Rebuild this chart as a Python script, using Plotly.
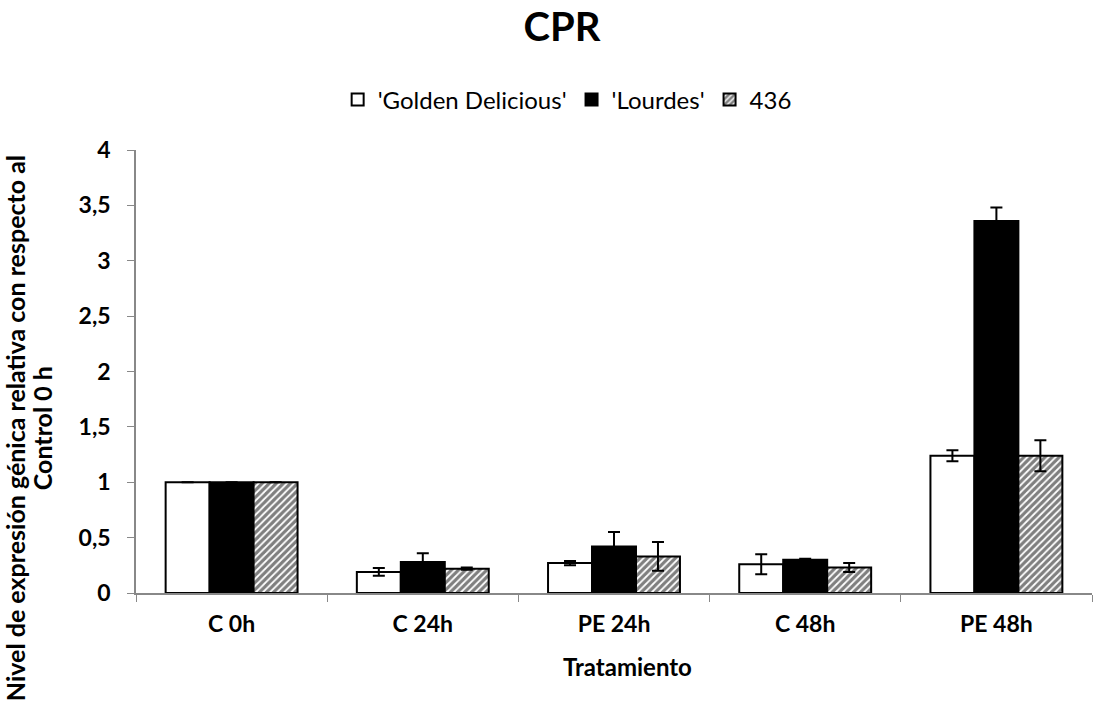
import plotly.graph_objects as go

categories = ["C 0h", "C 24h", "PE 24h", "C 48h", "PE 48h"]
series_names = ["'Golden Delicious'", "'Lourdes'", "436"]
golden = [1.0, 0.19, 0.27, 0.26, 1.24]
golden_err = [0.0, 0.035, 0.02, 0.09, 0.05]
lourdes = [1.0, 0.28, 0.42, 0.30, 3.36]
lourdes_err = [0.0, 0.08, 0.13, 0.01, 0.12]
s436 = [1.0, 0.22, 0.33, 0.23, 1.24]
s436_err = [0.0, 0.01, 0.13, 0.04, 0.14]
y_ticks = [0, 0.5, 1, 1.5, 2, 2.5, 3, 3.5, 4]
y_ticktext = ["0", "0,5", "1", "1,5", "2", "2,5", "3", "3,5", "4"]
y_title_lines = ["Nivel de expresión génica relativa con respecto al", "Control 0 h"]

FONT = "Lato, Open Sans, sans-serif"

fig = go.Figure()
styles = [
    dict(color="white", pattern=None),
    dict(color="black", pattern=None),
    dict(color="white", pattern=dict(shape="/", fgcolor="black", bgcolor="white", size=5, solidity=0.65)),
]
for name, vals, errs, st in zip(series_names, [golden, lourdes, s436], [golden_err, lourdes_err, s436_err], styles):
    marker = dict(color=st["color"], line=dict(color="black", width=2))
    if st["pattern"]:
        marker["pattern"] = st["pattern"]
    fig.add_trace(go.Bar(
        x=categories, y=vals, name=name, marker=marker,
        error_y=dict(type="data", array=errs, visible=True, color="black", thickness=2, width=6),
    ))

annotations = [
    dict(text="<b>Tratamiento</b>", xref="paper", yref="paper", x=0.5146, y=-0.167,
         xanchor="center", yanchor="middle", showarrow=False,
         font=dict(family=FONT, size=24, color="black")),
]
for line, xp in zip(y_title_lines, [-0.1266, -0.0983]):
    annotations.append(dict(text="<b>%s</b>" % line, xref="paper", yref="paper", x=xp, y=0.372,
                            textangle=-90, xanchor="center", yanchor="middle", showarrow=False,
                            font=dict(family=FONT, size=25, color="black")))

fig.update_layout(
    width=1112, height=706,
    paper_bgcolor="white", plot_bgcolor="white",
    margin=dict(l=136, r=20, t=150, b=113),
    barmode="group", bargap=0.31, bargroupgap=0,
    title=dict(text="<b>CPR</b>", x=0.5054, xanchor="center", y=0.962, yanchor="middle",
               font=dict(family=FONT, size=40, color="black")),
    legend=dict(orientation="h", x=0.451, xanchor="center", y=1.113, yanchor="middle",
                font=dict(family=FONT, size=24, color="black"), traceorder="normal"),
    xaxis=dict(
        tickfont=dict(family=FONT, size=23, color="black"),
        tickvals=categories, ticktext=["<b>%s</b>" % c for c in categories],
        showline=True, linecolor="#888888", linewidth=1.5,
        ticks="outside", tickson="boundaries", ticklen=7, tickcolor="#888888",
        ticklabelstandoff=10,
        showgrid=False,
    ),
    yaxis=dict(
        tickfont=dict(family=FONT, size=23, color="black"),
        tickvals=y_ticks, ticktext=["<b>%s</b>" % t for t in y_ticktext],
        range=[0, 4],
        showline=True, linecolor="#888888", linewidth=1.5,
        ticks="outside", ticklen=7, tickcolor="#888888",
        ticklabelstandoff=12,
        showgrid=False, zeroline=False,
    ),
    annotations=annotations,
)

fig.write_html("out.html")
